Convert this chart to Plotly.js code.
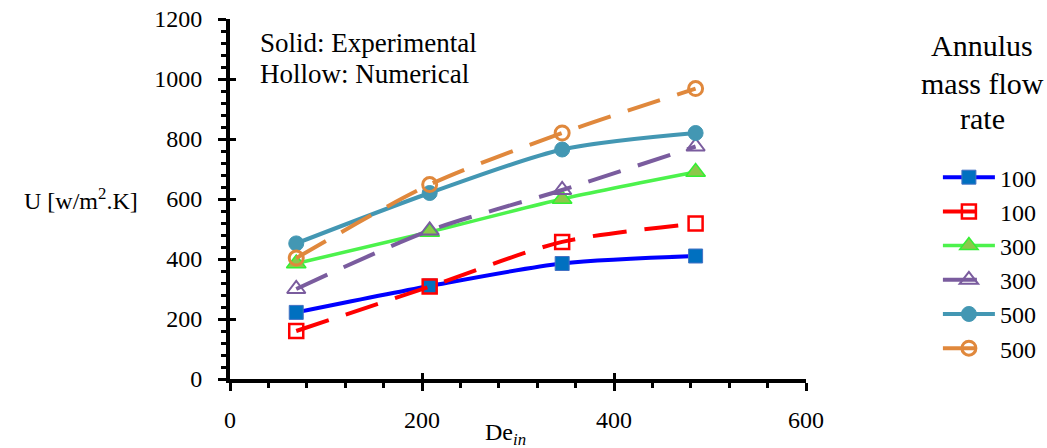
<!DOCTYPE html>
<html>
<head>
<meta charset="utf-8">
<script src="https://cdn.plot.ly/plotly-3.0.1.min.js"></script>
<style>html,body{margin:0;padding:0;background:#fff;}#chart{width:1047px;height:448px;}</style>
</head>
<body>
<div id="chart"></div>
<script>
// Data
const deIn = [69, 208, 346, 485];
const expU100 = [222, 310, 385, 410];
const numU100 = [160, 308, 457, 518];
const expU300 = [385, 490, 600, 690];
const numU300 = [300, 495, 630, 775];
const expU500 = [452, 620, 765, 820];
const numU500 = [403, 648, 820, 968];
const seriesNames = ['100', '100', '300', '300', '500', '500'];
const xTicks = [0, 200, 400, 600];
const yTicks = [0, 200, 400, 600, 800, 1000, 1200];

const serif = '"Liberation Serif", "Times New Roman", serif';
const dashPat = '34px,18px';

const traces = [
  {x: deIn, y: expU100, name: seriesNames[0], mode: 'lines+markers', line: {color: '#0000FF', width: 4, shape: 'spline', smoothing: 0.8},
   marker: {symbol: 'square', size: 14, color: '#0070C0', line: {color: '#4472C4', width: 1}}},
  {x: deIn, y: numU100, name: seriesNames[1], mode: 'lines+markers', line: {color: '#FF0000', width: 4, dash: dashPat, shape: 'spline', smoothing: 0.8},
   marker: {symbol: 'square-open', size: 14, color: '#FF0000', line: {color: '#FF0000', width: 2.5}}},
  {x: deIn, y: expU300, name: seriesNames[2], mode: 'lines+markers', line: {color: '#4CF24C', width: 3.5, shape: 'spline', smoothing: 0.8},
   marker: {symbol: 'triangle-up', size: 17, color: '#8CC84B', line: {color: '#33F033', width: 1.5}}},
  {x: deIn, y: numU300, name: seriesNames[3], mode: 'lines+markers', line: {color: '#7A5C9E', width: 4, dash: dashPat, shape: 'spline', smoothing: 0.8},
   marker: {symbol: 'triangle-up-open', size: 16, color: '#7A5C9E', line: {color: '#7A5C9E', width: 2}}},
  {x: deIn, y: expU500, name: seriesNames[4], mode: 'lines+markers', line: {color: '#4397B3', width: 4, shape: 'spline', smoothing: 0.8},
   marker: {symbol: 'circle', size: 15, color: '#4397B3', line: {color: '#4397B3', width: 1}}},
  {x: deIn, y: numU500, name: seriesNames[5], mode: 'lines+markers', line: {color: '#E0883C', width: 4, dash: dashPat, shape: 'spline', smoothing: 0.8},
   marker: {symbol: 'circle-open', size: 14, color: '#E0883C', line: {color: '#E0883C', width: 3}}},
  // invisible trace hosting the inner half of the crossing major ticks
  {x: [0], y: [0], xaxis: 'x2', yaxis: 'y2', mode: 'markers', marker: {opacity: 0}, showlegend: false, hoverinfo: 'skip'}
];

const tickFont = {family: serif, size: 24, color: '#000'};

const layout = {
  width: 1047, height: 448,
  margin: {l: 230, r: 241, t: 19, b: 69, autoexpand: false},
  paper_bgcolor: '#fff', plot_bgcolor: '#fff',
  font: {family: serif, size: 24, color: '#000'},
  showlegend: true,
  legend: {x: 1.229, xanchor: 'left', y: 0.622, yanchor: 'top', xref: 'paper', yref: 'paper',
           itemwidth: 52, font: {family: serif, size: 24, color: '#000'}, bgcolor: 'rgba(0,0,0,0)', tracegroupgap: 0},
  xaxis: {range: [0, 600], tickvals: xTicks, ticktext: xTicks.map(String), showgrid: false, zeroline: false,
          showline: true, linecolor: '#000', linewidth: 4, ticks: 'outside', ticklen: 8, tickwidth: 3, tickcolor: '#000',
          ticklabelstandoff: 8, tickfont: tickFont,
          minor: {dtick: 40, ticks: 'outside', ticklen: 5, tickwidth: 3, tickcolor: '#000', showgrid: false}},
  yaxis: {range: [0, 1200], tickvals: yTicks, ticktext: yTicks.map(String), showgrid: false, zeroline: false,
          showline: true, linecolor: '#000', linewidth: 4, ticks: 'outside', ticklen: 8, tickwidth: 3, tickcolor: '#000',
          ticklabelstandoff: 11, tickfont: tickFont,
          minor: {dtick: 40, ticks: 'outside', ticklen: 5, tickwidth: 3, tickcolor: '#000', showgrid: false}},
  xaxis2: {overlaying: 'x', matches: 'x', range: [0, 600], tickvals: xTicks, showticklabels: false, showgrid: false, zeroline: false,
           ticks: 'inside', ticklen: 6, tickwidth: 3, tickcolor: '#000', showline: false},
  yaxis2: {overlaying: 'y', matches: 'y', range: [0, 1200], tickvals: yTicks, showticklabels: false, showgrid: false, zeroline: false,
           ticks: 'inside', ticklen: 6, tickwidth: 3, tickcolor: '#000', showline: false},
  annotations: [
    {text: 'Solid: Experimental', xref: 'paper', yref: 'paper', x: 0.0486, y: 0.9333, xanchor: 'left', yanchor: 'middle',
     showarrow: false, font: {family: serif, size: 27, color: '#000'}},
    {text: 'Hollow: Numerical', xref: 'paper', yref: 'paper', x: 0.0486, y: 0.8472, xanchor: 'left', yanchor: 'middle',
     showarrow: false, font: {family: serif, size: 27, color: '#000'}},
    {text: 'Annulus', xref: 'paper', yref: 'paper', x: 1.3056, y: 0.925, xanchor: 'center', yanchor: 'middle',
     showarrow: false, font: {family: serif, size: 30, color: '#000'}},
    {text: 'mass flow', xref: 'paper', yref: 'paper', x: 1.3056, y: 0.822, xanchor: 'center', yanchor: 'middle',
     showarrow: false, font: {family: serif, size: 30, color: '#000'}},
    {text: 'rate', xref: 'paper', yref: 'paper', x: 1.3056, y: 0.725, xanchor: 'center', yanchor: 'middle',
     showarrow: false, font: {family: serif, size: 30, color: '#000'}},
    {text: 'U [w/m<sup>2</sup>.K]', xref: 'paper', yref: 'paper', x: -0.258, y: 0.50, xanchor: 'center', yanchor: 'middle',
     showarrow: false, font: {family: serif, size: 24, color: '#000'}},
    {text: 'De<sub><i>in</i></sub>', xref: 'paper', yref: 'paper', x: 0.4775, y: -0.153, xanchor: 'center', yanchor: 'middle',
     showarrow: false, font: {family: serif, size: 24, color: '#000'}}
  ]
};

Plotly.newPlot('chart', traces, layout, {displayModeBar: false, staticPlot: true});
</script>
</body>
</html>
